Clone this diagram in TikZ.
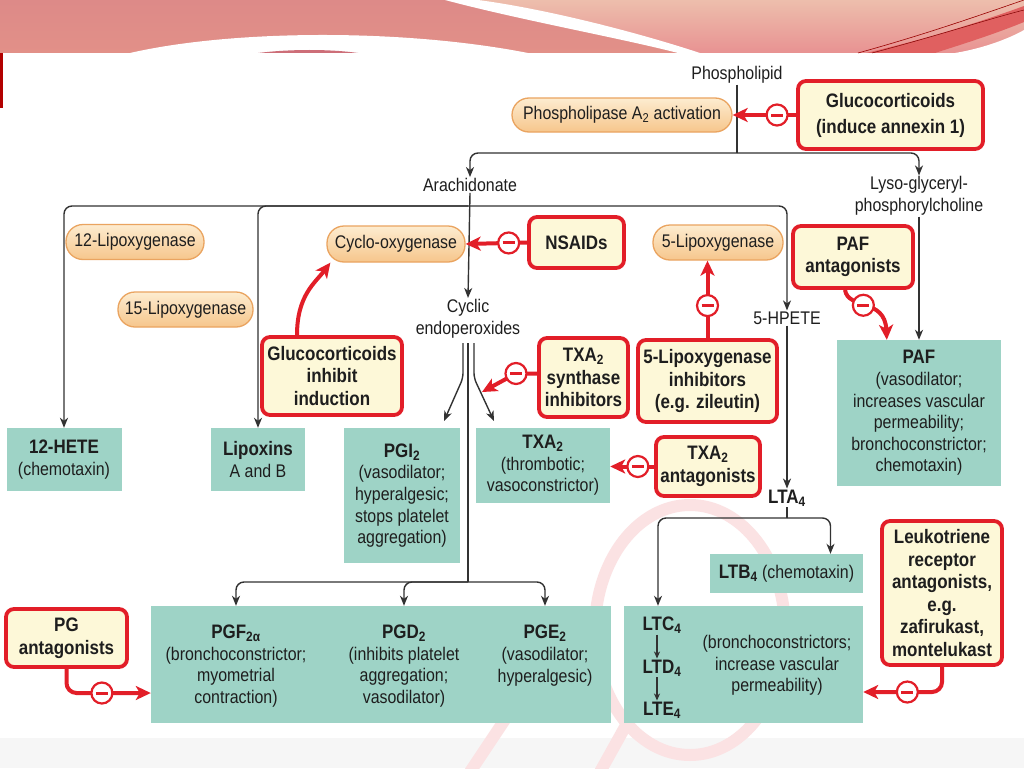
\documentclass[tikz,border=0pt]{standalone}
\usepackage{fontspec}
\setmainfont[FakeStretch=0.87]{Liberation Sans}
\usetikzlibrary{arrows.meta,calc}
\definecolor{tealc}{RGB}{158,211,198}
\definecolor{redc}{RGB}{226,30,40}
\definecolor{yel}{RGB}{253,248,216}
\definecolor{pilltop}{RGB}{253,236,208}
\definecolor{pillbot}{RGB}{246,198,140}
\definecolor{pillb}{RGB}{234,164,96}
\definecolor{linec}{RGB}{50,50,50}
\definecolor{txt}{RGB}{30,30,30}
\definecolor{hdrpink}{RGB}{221,138,136}
\definecolor{hdrpinkb}{RGB}{226,144,136}
\definecolor{peach}{RGB}{237,190,172}
\definecolor{peachb}{RGB}{232,146,146}
\definecolor{hdrdark}{RGB}{205,110,120}
\definecolor{redband}{RGB}{224,96,96}
\newcommand\fnorm{\fontsize{18.3}{21.6}\selectfont}
\newcommand\fbold{\fontsize{19.5}{22.6}\selectfont\bfseries}
\begin{document}
\begin{tikzpicture}[x=1pt,y=-1pt,
 every node/.style={text=txt},
 lbl/.style={font=\fnorm, align=center, inner sep=1pt},
 tealbox/.style={fill=tealc, font=\fnorm, align=center, inner sep=0pt},
 redbox/.style={draw=redc, line width=3.8pt, fill=yel, rounded corners=8pt, font=\fbold, align=center, inner sep=2pt},
 pill/.style={draw=pillb, line width=1.3pt, top color=pilltop, bottom color=pillbot, rounded corners=17pt, font=\fnorm, inner sep=2pt},
 conn/.style={draw=linec, line width=1.4pt, rounded corners=8pt},
 carrow/.style={conn, -{Stealth[length=10pt,width=8pt,inset=3pt]}},
 sarrow/.style={draw=linec, line width=1.2pt, -{Stealth[length=7pt,width=6pt,inset=2pt]}},
 rarrow/.style={draw=redc, line width=4pt, rounded corners=10pt, -{Stealth[length=15pt,width=14pt,inset=4pt]}},
 minus/.style={circle, draw=redc, line width=2.2pt, fill=white, minimum size=21pt, inner sep=0pt,
   path picture={\draw[redc, line width=3pt, -] ([xshift=-6pt]path picture bounding box.center) -- ([xshift=6pt]path picture bounding box.center);}},
 wm/.style={draw=redc!13, line width=12pt},
]
\useasboundingbox (0,0) rectangle (1024,768);
\fill[white] (0,0) rectangle (1024,768);
\fill[gray!7] (0,738) rectangle (1024,768);
% header
\shade[top color=hdrpink, bottom color=hdrpinkb] (0,0) rectangle (1024,53);
\shade[top color=peach, bottom color=peachb] (460,0) .. controls (540,12) and (620,32) .. (690,53) -- (1024,53) -- (1024,0) -- cycle;
\fill[white] (445,0) .. controls (520,20) and (620,38) .. (678,53) -- (700,53) .. controls (630,30) and (540,8) .. (478,0) -- cycle;
\fill[white] (130,53) .. controls (230,30) and (400,28) .. (528,53) -- cycle;
\fill[hdrdark] (258,53) .. controls (290,49) and (330,49) .. (358,53) -- cycle;
\fill[white] (955,53) .. controls (985,48) and (1010,38) .. (1024,30) -- (1024,53) -- cycle;
\fill[redband] (866,53) .. controls (930,38) and (980,22) .. (1024,6) -- (1024,22) .. controls (990,36) and (950,48) .. (935,53) -- cycle;
\draw[red!60!black, line width=0.6pt] (858,53) .. controls (930,33) and (980,15) .. (1024,0);
\draw[red!50!black, line width=0.5pt] (872,53) .. controls (940,35) and (985,20) .. (1024,10);
\fill[red!70!black] (0,53) rectangle (2.5,108);
% watermark
\draw[wm] (690,630) ellipse (95 and 125);
\draw[wm] (470,772) -- (548,655);
\draw[wm] (600,772) -- (640,700);

% nodes
\node[lbl] (phos) at (737,75) {Phospholipid};
\node[pill, minimum width=220pt, minimum height=34pt] (pla) at (622,115) {Phospholipase A\textsubscript{2} activation};
\node[redbox, minimum width=185pt, minimum height=68pt, font=\fontsize{19.5}{26}\selectfont\bfseries] (gluco) at (890.5,115) {Glucocorticoids\\(induce annexin 1)};
\node[lbl] (arach) at (470,185) {Arachidonate};
\node[lbl] (lyso) at (919,196) {Lyso-glyceryl-\\phosphorylcholine};
\node[pill, minimum width=138pt, minimum height=35pt] (lox12) at (135,242) {12-Lipoxygenase};
\node[pill, minimum width=135pt, minimum height=35pt] (lox15) at (185.5,309.5) {15-Lipoxygenase};
\node[pill, minimum width=138pt, minimum height=36pt] (cyclo) at (396,244) {Cyclo-oxygenase};
\node[redbox, minimum width=95pt, minimum height=51pt] (nsaid) at (576.5,242.5) {NSAIDs};
\node[pill, minimum width=130pt, minimum height=35pt] (lox5) at (718,242.5) {5-Lipoxygenase};
\node[redbox, minimum width=120pt, minimum height=62pt] (pafant) at (853,257) {PAF\\antagonists};
\node[lbl] (hpete) at (787,318) {5-HPETE};
\node[lbl] (cyclic) at (468,318.5) {Cyclic\\endoperoxides};
\node[redbox, minimum width=140pt, minimum height=78pt] (gii) at (332,376) {Glucocorticoids\\inhibit\\induction};
\node[redbox, minimum width=89pt, minimum height=79pt] (txsi) at (583.5,377.5) {TXA\textsubscript{2}\\synthase\\inhibitors};
\node[redbox, minimum width=139pt, minimum height=82pt] (lox5i) at (707.5,381) {5-Lipoxygenase\\inhibitors\\(e.g. zileutin)};
\node[tealbox, minimum width=164pt, minimum height=146pt] (paf) at (919,413) {{\fbold PAF}\\(vasodilator;\\increases vascular\\permeability;\\bronchoconstrictor;\\chemotaxin)};
\node[tealbox, minimum width=115pt, minimum height=63pt] (hete) at (64,459.5) {{\fbold 12-HETE}\\(chemotaxin)};
\node[tealbox, minimum width=94pt, minimum height=63pt] (lipox) at (258,459.5) {{\fbold Lipoxins}\\A and B};
\node[tealbox, minimum width=116pt, minimum height=135pt] (pgi) at (402,495.5) {{\fbold PGI\textsubscript{2}}\\(vasodilator;\\hyperalgesic;\\stops platelet\\aggregation)};
\node[tealbox, minimum width=134pt, minimum height=75pt] (txa) at (543,465.5) {{\fbold TXA\textsubscript{2}}\\(thrombotic;\\vasoconstrictor)};
\node[redbox, minimum width=104pt, minimum height=59pt] (txant) at (708,466.5) {TXA\textsubscript{2}\\antagonists};
\node[lbl, font=\fbold] (lta) at (787,498) {LTA\textsubscript{4}};
\node[tealbox, minimum width=153pt, minimum height=39pt] (ltb) at (786.5,573.5) {{\fbold LTB\textsubscript{4}} (chemotaxin)};
\node[redbox, minimum width=120pt, minimum height=144pt] (leuko) at (942,593) {Leukotriene\\receptor\\antagonists,\\e.g.\\zafirukast,\\montelukast};
\node[tealbox, minimum width=460pt, minimum height=117pt] (pgbox) at (381,664.5) {};
\node[lbl] (pgf) at (236,666) {{\fbold PGF\textsubscript{2α}}\\(bronchoconstrictor;\\myometrial\\contraction)};
\node[lbl] (pgd) at (404,666) {{\fbold PGD\textsubscript{2}}\\(inhibits platelet\\aggregation;\\vasodilator)};
\node[lbl] (pge) at (545,655.5) {{\fbold PGE\textsubscript{2}}\\(vasodilator;\\hyperalgesic)};
\node[redbox, minimum width=121pt, minimum height=58pt] (pgant) at (66.5,638) {PG\\antagonists};
\node[tealbox, minimum width=239pt, minimum height=117pt] (ltbox) at (743.5,664.5) {};
\node[lbl, font=\fbold] (ltc) at (662,625) {LTC\textsubscript{4}};
\node[lbl, font=\fbold] (ltd) at (662,668) {LTD\textsubscript{4}};
\node[lbl, font=\fbold] (lte) at (662,710) {LTE\textsubscript{4}};
\node[lbl] (lttext) at (777,665.5) {(bronchoconstrictors;\\increase vascular\\permeability)};

% junction coordinates
\coordinate (j1) at (737,153);
\coordinate (j2) at (468,206);
\coordinate (cl) at (463,343);
\coordinate (cm) at (468,343);
\coordinate (cr) at (474,343);
\coordinate (pgitip) at (444,421);
\coordinate (txatip) at (494,421);
\coordinate (j3) at (468,582);
\coordinate (j4) at (787,518);
\coordinate (txbend) at (516,373.5);
\coordinate (txtip) at (482,392);

% black connectors
\draw[conn] (phos.south) -- (j1);
\draw[carrow] (j1) -| (arach.north);
\draw[carrow] (j1) -| (lyso.north);
\draw[carrow] (lyso.south) -- (lyso.south |- paf.north);
\draw[carrow] (arach.south) -- (cyclic.north);
\draw[carrow] (j2) -| (hete.north);
\draw[carrow] (j2) -| (lipox.north);
\draw[carrow] (j2) -| (hpete.north);
\draw[carrow] (hpete.south) -- (lta.north);
\draw[carrow, rounded corners=5pt] (cl) -- ++(0,35) -- (pgitip);
\draw[carrow, rounded corners=5pt] (cr) -- ++(0,35) -- (txatip);
\draw[conn] (cm) -- (j3);
\draw[carrow] (j3) -| (pgf.north |- pgbox.north);
\draw[carrow] (j3) -| (pgd.north |- pgbox.north);
\draw[carrow] (j3) -| (pge.north |- pgbox.north);
\draw[conn] (lta.south) -- (j4);
\draw[carrow] (j4) -| ([xshift=-4pt]ltc.north |- ltbox.north);
\draw[carrow] (j4) -| ([xshift=44pt]ltb.north);
\draw[sarrow] ([xshift=-5pt]ltc.south) -- ([xshift=-5pt]ltd.north);
\draw[sarrow] ([xshift=-5pt]ltd.south) -- ([xshift=-5pt]lte.north);

% red inhibitory connectors
\draw[rarrow] (gluco.west) -- (pla.east) node[minus, pos=0.3] (m1) {};
\draw[rarrow] (nsaid.west) -- (cyclo.east) node[minus, pos=0.3] (m2) {};
\draw[rarrow] (lox5i.north) -- (lox5i.north |- lox5.south) node[minus, pos=0.42] (m3) {};
\draw[rarrow] ([xshift=-8pt]pafant.south) .. controls +(3,20) and +(-2,-42) .. ([xshift=50pt]paf.north west) node[minus, pos=0.45] (m4) {};
\draw[rarrow] ([yshift=4pt]txsi.west) -- (txbend) -- (txtip);
\node[minus] (m5) at (txbend) {};
\draw[rarrow] (txant.west) -- (txant.west -| txa.east) node[minus, pos=0.37] (m6) {};
\draw[rarrow] ([xshift=-35pt]gii.north) .. controls +(0,-40) and +(-15,20) .. ([xshift=4pt]cyclo.south west);
\draw[rarrow] (pgant.south) |- ([yshift=-28.5pt]pgbox.west) node[minus, pos=0.71] (m7) {};
\draw[rarrow] (leuko.south) |- ([yshift=-27.5pt]ltbox.east) node[minus, pos=0.72] (m8) {};
\end{tikzpicture}
\end{document}
